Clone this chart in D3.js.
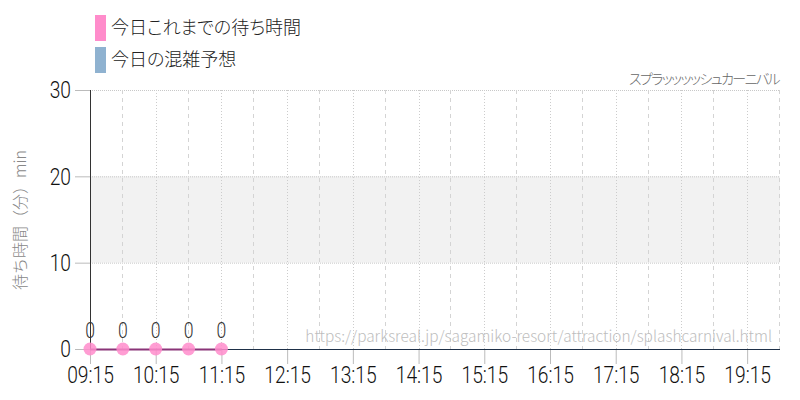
<!DOCTYPE html>
<html>
<head>
<meta charset="utf-8">
<script src="https://cdn.jsdelivr.net/npm/d3@7"></script>
<style>
  body { margin: 0; background: #fff; }
  svg { display: block; }
  .num { font-family: "Roboto", sans-serif; font-weight: 300; }
  .jp { font-family: "Noto Sans CJK JP", "Noto Sans", sans-serif; font-weight: 300; }
  .palt { font-feature-settings: "palt"; }
</style>
</head>
<body>
<svg id="chart" width="800" height="400"></svg>
<script>
// data
const times = ["09:15", "09:45", "10:15", "10:45", "11:15"];
const waits = [0, 0, 0, 0, 0];
const xTicks = ["09:15", "10:15", "11:15", "12:15", "13:15", "14:15", "15:15", "16:15", "17:15", "18:15", "19:15"];
const halfTicks = ["09:45", "10:45", "11:45", "12:45", "13:45", "14:45", "15:45", "16:45", "17:45", "18:45", "19:45"];
const yTicks = [0, 10, 20, 30];
const xDomain = ["09:15", "19:45"];
const band = [10, 20];
const legendItems = [
  { label: "今日これまでの待ち時間", color: "#ff8ccb" },
  { label: "今日の混雑予想", color: "#8fb2d0" }
];
const title = "スプラッッッッシュカーニバル";
const yLabel = "待ち時間（分）min";
const url = "https://parksreal.jp/sagamiko-resort/attraction/splashcarnival.html";

const margin = { top: 90, right: 20, bottom: 51, left: 90 },
  width = 800 - margin.left - margin.right,
  height = 400 - margin.top - margin.bottom;

const squeeze = 0.8; // numbers in the picture are a condensed face

const parse = d3.timeParse("%H:%M");
const svg = d3.select("#chart");
const g = svg.append("g").attr("transform", `translate(${margin.left},${margin.top})`);

const x = d3.scaleTime().domain(xDomain.map(parse)).range([0, width]);
const y = d3.scaleLinear().domain([0, 30]).range([height, 0]);

// light band 10-20
g.append("rect")
  .attr("x", 0)
  .attr("y", y(band[1]))
  .attr("width", width)
  .attr("height", y(band[0]) - y(band[1]))
  .attr("fill", "#f2f2f2");

// horizontal dotted grid
g.selectAll(".hgrid")
  .data(yTicks.filter((d) => d > 0))
  .enter()
  .append("line")
  .attr("x1", 0)
  .attr("x2", width)
  .attr("y1", (d) => y(d) + 0.5)
  .attr("y2", (d) => y(d) + 0.5)
  .attr("stroke", "#c8c8c8")
  .attr("stroke-dasharray", "1,1");

// vertical grid: dotted on the hour ticks, dashed on half hours
g.selectAll(".vgrid")
  .data(xTicks.slice(1))
  .enter()
  .append("line")
  .attr("x1", (d) => Math.round(x(parse(d))) + 0.5)
  .attr("x2", (d) => Math.round(x(parse(d))) + 0.5)
  .attr("y1", 0)
  .attr("y2", height)
  .attr("stroke", "#cccccc")
  .attr("stroke-dasharray", "1,2");

g.selectAll(".vgrid2")
  .data(halfTicks)
  .enter()
  .append("line")
  .attr("x1", (d) => Math.round(x(parse(d))) - 0.5)
  .attr("x2", (d) => Math.round(x(parse(d))) - 0.5)
  .attr("y1", 0)
  .attr("y2", height)
  .attr("stroke", "#d4d4d4")
  .attr("stroke-dasharray", "4,4");

// y axis
const yAxis = g.append("g")
  .call(d3.axisLeft(y).tickValues(yTicks).tickSize(15).tickPadding(4));
yAxis.select(".domain").remove();
yAxis.selectAll(".tick line").attr("stroke", "#bbbbbb");
yAxis.selectAll(".tick text")
  .attr("class", "num")
  .attr("fill", "#111")
  .attr("x", null)
  .attr("transform", `translate(-19,0) scale(${squeeze},1)`)
  .style("font-size", "24px");
g.append("line")
  .attr("x1", 0.5).attr("x2", 0.5)
  .attr("y1", 0).attr("y2", height)
  .attr("stroke", "#333");

// x axis
const xAxis = g.append("g")
  .attr("transform", `translate(0,${height})`)
  .call(d3.axisBottom(x).tickValues(xTicks.map(parse)).tickFormat(d3.timeFormat("%H:%M")).tickSize(15).tickPadding(2));
xAxis.select(".domain").remove();
xAxis.selectAll(".tick line").attr("stroke", "#bbbbbb");
xAxis.selectAll(".tick text")
  .attr("class", "num")
  .attr("fill", "#111")
  .attr("transform", `scale(${squeeze},1)`)
  .style("font-size", "24px");
g.append("line")
  .attr("x1", 0).attr("x2", width)
  .attr("y1", height + 0.5).attr("y2", height + 0.5)
  .attr("stroke", "#1e3048");

// url watermark
g.append("text")
  .attr("class", "jp")
  .attr("x", width - 8)
  .attr("y", height - 7)
  .attr("text-anchor", "end")
  .attr("fill", "#bdbdbd")
  .style("font-size", "15.4px")
  .text(url);

// wait-time line and points
const pts = times.map((t, i) => ({ t: parse(t), v: waits[i] }));
g.append("path")
  .datum(pts)
  .attr("fill", "none")
  .attr("stroke", "#8a3478")
  .attr("stroke-width", 2)
  .attr("d", d3.line().x((d) => x(d.t)).y((d) => y(d.v) + 0.5));

g.selectAll(".dot")
  .data(pts)
  .enter()
  .append("circle")
  .attr("cx", (d) => x(d.t))
  .attr("cy", (d) => y(d.v))
  .attr("r", 6.5)
  .attr("fill", "#ff8ccb")
  .attr("fill-opacity", 0.85);

g.selectAll(".vlab")
  .data(pts)
  .enter()
  .append("text")
  .attr("class", "num")
  .attr("transform", (d) => `translate(${x(d.t)},${y(d.v) - 11}) scale(${squeeze},1)`)
  .attr("text-anchor", "middle")
  .attr("fill", "#333")
  .style("font-size", "22px")
  .text((d) => d.v);

// legend
const legend = svg.append("g").attr("transform", "translate(95,15)");
legend.selectAll("rect")
  .data(legendItems)
  .enter()
  .append("rect")
  .attr("x", 0)
  .attr("y", (d, i) => i * 32)
  .attr("width", 11)
  .attr("height", 26)
  .attr("fill", (d) => d.color);
legend.selectAll("text")
  .data(legendItems)
  .enter()
  .append("text")
  .attr("class", "jp palt")
  .attr("x", 16)
  .attr("y", (d, i) => i * 32 + 19)
  .attr("fill", "#222")
  .style("font-size", "18px")
  .text((d) => d.label);

// title at top right
svg.append("text")
  .attr("class", "jp palt")
  .attr("x", 779)
  .attr("y", 84)
  .attr("text-anchor", "end")
  .attr("fill", "#666")
  .style("font-size", "14px")
  .style("letter-spacing", "-1.6px")
  .text(title);

// y label
svg.append("text")
  .attr("class", "jp")
  .attr("transform", "translate(26,220) rotate(-90)")
  .attr("text-anchor", "middle")
  .attr("fill", "#888")
  .style("font-size", "16px")
  .text(yLabel);
</script>
</body>
</html>
